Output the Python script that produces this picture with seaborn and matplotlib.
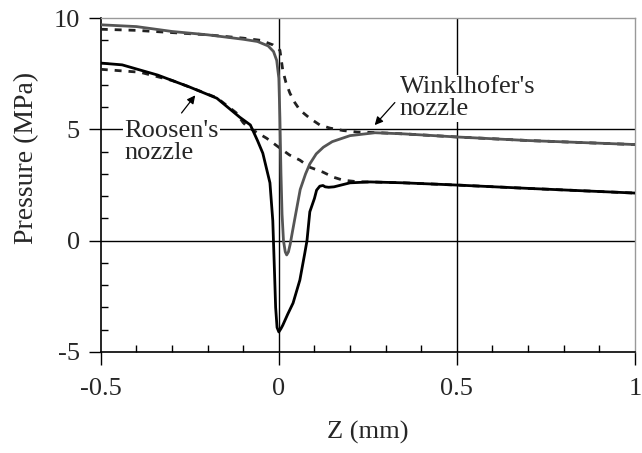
import matplotlib
matplotlib.use("Agg")
import matplotlib.pyplot as plt
import pandas as pd
import seaborn as sns
from matplotlib.ticker import MultipleLocator

# Winklhofer's nozzle, solid curve
wink_z = [-0.5, -0.4, -0.3, -0.2, -0.1, -0.06, -0.03, -0.015, -0.006, 0.0,
          0.003, 0.006, 0.009, 0.013, 0.018, 0.022, 0.027, 0.032, 0.037,
          0.045, 0.06, 0.075, 0.087, 0.105, 0.125, 0.15, 0.2, 0.27, 0.35,
          0.5, 0.7, 1.0]
wink_p = [9.7, 9.62, 9.4, 9.25, 9.05, 8.95, 8.75, 8.5, 8.1, 7.3,
          5.5, 3.0, 1.2, 0.0, -0.5, -0.64, -0.5, -0.15, 0.3,
          1.0, 2.3, 3.0, 3.45, 3.9, 4.2, 4.45, 4.72, 4.85, 4.8,
          4.66, 4.5, 4.32]

# Winklhofer's nozzle, dashed curve
wink_dash_z = [-0.5, -0.4, -0.3, -0.2, -0.1, -0.05, -0.017, 0.003, 0.011,
               0.02, 0.031, 0.045, 0.059, 0.087, 0.115, 0.143, 0.18, 0.22,
               0.27, 0.35, 0.5, 0.7, 1.0]
wink_dash_p = [9.5, 9.45, 9.35, 9.25, 9.1, 9.0, 8.8, 8.56, 7.66,
               7.1, 6.63, 6.2, 5.87, 5.5, 5.2, 5.06, 4.95, 4.88,
               4.86, 4.8, 4.66, 4.5, 4.32]

# Roosen's nozzle, solid curve
roos_z = [-0.5, -0.44, -0.34, -0.25, -0.174, -0.11, -0.08, -0.06, -0.045,
          -0.025, -0.017, -0.012, -0.009, -0.005, 0.0, 0.006, 0.011, 0.025,
          0.04, 0.059, 0.073, 0.079, 0.087, 0.1, 0.106, 0.115, 0.124, 0.13,
          0.14, 0.155, 0.2, 0.256, 0.35, 0.5, 0.7, 1.0]
roos_p = [7.98, 7.9, 7.44, 6.9, 6.4, 5.55, 5.2, 4.5, 3.93,
          2.6, 0.9, -1.5, -3.0, -3.9, -4.1, -3.95, -3.8, -3.3,
          -2.8, -1.77, -0.55, 0.0, 1.3, 1.9, 2.27, 2.45, 2.48, 2.42,
          2.4, 2.42, 2.6, 2.64, 2.6, 2.5, 2.35, 2.14]

# Roosen's nozzle, dashed curve
roos_dash_z = [-0.5, -0.39, -0.3, -0.25, -0.174, -0.12, -0.1, -0.09, -0.073,
               -0.034, 0.003, 0.03, 0.059, 0.087, 0.124, 0.152, 0.18, 0.22,
               0.256, 0.35, 0.5, 0.7, 1.0]
roos_dash_p = [7.7, 7.57, 7.2, 6.9, 6.42, 5.75, 5.3, 5.15, 4.97,
               4.6, 4.16, 3.85, 3.62, 3.3, 3.08, 2.86, 2.72, 2.65,
               2.64, 2.6, 2.5, 2.35, 2.14]

x_major = [-0.5, 0, 0.5, 1]
x_labels = ["-0.5", "0", "0.5", "1"]
y_major = [-5, 0, 5, 10]
y_labels = ["-5", "0", "5", "10"]

sns.set_theme(style="white")
plt.rcParams["font.family"] = ["Liberation Serif", "DejaVu Serif"]
plt.rcParams["axes.unicode_minus"] = False

fig = plt.figure(figsize=(6.42, 4.53), dpi=100)
ax = fig.add_axes([0.157, 0.223, 0.832, 0.737])

# grid lines drawn first, under the curves
for gx in [0, 0.5]:
    ax.axvline(gx, color="black", lw=1.0, zorder=1)
for gy in [0, 5]:
    ax.axhline(gy, color="black", lw=1.0, zorder=1)

dash = (0, (2.5, 2.5))
sns.lineplot(x=wink_dash_z, y=wink_dash_p, ax=ax, color="#222222", lw=2.0,
             linestyle=dash, sort=False, estimator=None, zorder=3)
sns.lineplot(x=roos_dash_z, y=roos_dash_p, ax=ax, color="#222222", lw=2.0,
             linestyle=dash, sort=False, estimator=None, zorder=3)
sns.lineplot(x=wink_z, y=wink_p, ax=ax, color="#555555", lw=2.0,
             sort=False, estimator=None, zorder=4)
sns.lineplot(x=roos_z, y=roos_p, ax=ax, color="black", lw=2.0,
             sort=False, estimator=None, zorder=4)

ax.set_xlim(-0.5, 1)
ax.set_ylim(-5, 10)
ax.set_xticks(x_major)
ax.set_xticklabels(x_labels)
ax.set_yticks(y_major)
ax.set_yticklabels(y_labels)
ax.xaxis.set_minor_locator(MultipleLocator(0.1))
ax.yaxis.set_minor_locator(MultipleLocator(1))
ax.tick_params(which="major", direction="out", length=9, width=1,
               color="black", labelsize=19, pad=6)
ax.tick_params(axis="x", which="major", pad=10)
ax.tick_params(which="minor", direction="in", length=5, width=1,
               color="black")
ax.tick_params(axis="x", which="both", bottom=True)
ax.tick_params(axis="y", which="both", left=True)

for side in ["left", "bottom"]:
    ax.spines[side].set_color("black")
    ax.spines[side].set_linewidth(1.2)
for side in ["top", "right"]:
    ax.spines[side].set_color("#999999")
    ax.spines[side].set_linewidth(1.0)

ax.set_xlabel("Z (mm)", fontsize=19, labelpad=15)
ax.set_ylabel("Pressure (MPa)", fontsize=20)
ax.yaxis.set_label_coords(-0.115, 0.58)

box = dict(facecolor="white", edgecolor="none", pad=1)
ax.text(0.34, 6.4, "Winklhofer's\nnozzle", fontsize=19, ha="left",
        va="center", linespacing=1.0, bbox=box, zorder=5)
ax.text(-0.433, 4.45, "Roosen's\nnozzle", fontsize=19, ha="left",
        va="center", linespacing=1.0, bbox=box, zorder=5)

arrow = dict(arrowstyle="-|>", color="black", lw=0.9, mutation_scale=12)
ax.annotate("", xy=(0.264, 5.1), xytext=(0.331, 6.3), arrowprops=arrow,
            zorder=6)
ax.annotate("", xy=(-0.23, 6.63), xytext=(-0.278, 5.64), arrowprops=arrow,
            zorder=6)

fig.savefig("out.png", dpi=100)
